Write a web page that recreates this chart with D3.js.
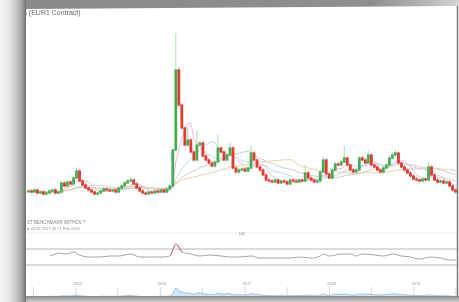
<!DOCTYPE html>
<html>
<head>
<meta charset="utf-8">
<script src="https://cdn.jsdelivr.net/npm/d3@7"></script>
<style>
  html, body { margin: 0; padding: 0; background: #fff; }
  svg { display: block; font-family: "Liberation Sans", Arial, sans-serif; }
</style>
</head>
<body>
<script>
var width = 459;
var height = 302;

// closing prices, one candle roughly every 13 days
var closes = [
  1.8, 1.6, 2.0, 1.4, 1.6, 1.2, 1.4, 1.8, 2.0, 1.4,
  1.6, 3.4, 2.8, 3.6, 3.2, 4.4, 5.8, 3.8, 3.0, 2.4,
  2.0, 1.6, 1.2, 1.4, 1.8, 2.2, 2.0, 1.8, 2.0, 1.6,
  2.4, 2.8, 3.4, 3.8, 4.0, 3.2, 2.4, 1.8, 1.4, 1.2,
  1.6, 1.4, 1.8, 1.6, 2.0, 1.6, 2.2, 2.8, 10.0, 26.0,
  19.0, 14.4, 11.0, 12.0, 9.6, 8.0, 11.0, 11.4, 8.8, 8.0,
  7.4, 6.8, 7.6, 10.4, 9.6, 8.0, 9.0, 10.4, 6.4, 5.6,
  6.0, 6.2, 5.8, 6.4, 9.4, 8.0, 6.6, 6.0, 5.0, 4.0,
  3.8, 3.6, 4.0, 3.4, 3.8, 3.6, 3.2, 4.0, 3.8, 3.6,
  4.0, 3.8, 5.4, 4.4, 4.0, 3.6, 3.8, 5.6, 8.0, 5.2,
  4.4, 6.0, 7.2, 7.0, 7.6, 8.4, 7.0, 6.0, 5.6, 6.0,
  8.4, 8.0, 7.4, 9.0, 7.0, 6.6, 6.0, 5.6, 6.4, 7.0,
  8.4, 9.0, 9.4, 7.4, 6.6, 6.0, 5.4, 4.8, 4.2, 4.0,
  3.8, 4.2, 4.0, 6.6, 5.0, 4.0, 3.6, 3.8, 3.4, 3.6,
  2.8, 2.0, 1.6
];

// notable upper wicks [candle index, high]
var wickHighs = [
  [16, 6.4], [34, 4.6], [49, 33.4], [50, 26.6], [53, 14.4], [56, 14.0],
  [63, 13.0], [67, 11.4], [74, 11.0], [92, 7.0], [98, 8.6], [105, 10.8],
  [113, 10.0], [122, 10.0], [133, 7.6]
];

// oscillator readings [candle index, value]
var oscillator = [
  [7, 52.5], [9, 57.5], [10, 60], [12, 57.5], [14, 60], [15, 62.5], [17, 55],
  [20, 50], [24, 50], [27, 52.5], [30, 52.5], [34, 57.5], [37, 50], [40, 50],
  [45, 50], [47, 52.5], [48, 67.5], [49, 82.5], [51, 62.5], [54, 57.5],
  [57, 52.5], [60, 55], [64, 52.5], [67, 50], [70, 50], [74, 52.5], [77, 47.5],
  [80, 47.5], [84, 47.5], [87, 47.5], [90, 50], [94, 47.5], [97, 52.5],
  [98, 57.5], [100, 52.5], [104, 57.5], [107, 57.5], [109, 52.5], [111, 57.5],
  [115, 55], [118, 52.5], [121, 57.5], [124, 52.5], [127, 50], [130, 45],
  [134, 50], [137, 47.5], [140, 42.5], [142, 42.5]
];

var maPeriods = [6, 14, 26, 40];
var maColors = ["#efb0d8", "#b6d4ee", "#c6c6c6", "#f4c797"];
var yearLabels = ["2015", "2016", "2017", "2018", "2019"];

var startDate = new Date(2014, 5, 10);
var dates = closes.map(function(c, i) { return d3.timeDay.offset(startDate, i * 13); });

var svg = d3.select("body").append("svg")
    .attr("width", width)
    .attr("height", height);

var defs = svg.append("defs");
defs.append("filter").attr("id", "soft")
  .append("feGaussianBlur").attr("stdDeviation", 0.55);

var x = d3.scaleTime()
    .domain([d3.timeDay.offset(dates[0], -6), d3.timeDay.offset(dates[dates.length - 1], 6)])
    .range([27, 457]);

var y = d3.scaleLinear().domain([0, 34]).range([200, 30]);

var chart = svg.append("g").attr("filter", "url(#soft)");

// title
chart.append("text")
    .attr("x", 23).attr("y", 15)
    .attr("font-size", 7).attr("fill", "#666")
    .text("a (EUR1 Contract)");

// candles
var candles = closes.map(function(c, i) {
  var o = i === 0 ? c : closes[i - 1];
  var w = wickHighs.find(function(d) { return d[0] === i; });
  return {
    date: dates[i], open: o, close: c,
    high: w ? w[1] : Math.max(o, c) + 0.4,
    low: Math.min(o, c) - 0.3
  };
});

// moving averages
maPeriods.forEach(function(p, k) {
  var ma = closes.map(function(c, i) {
    var s = closes.slice(Math.max(0, i - p + 1), i + 1);
    return { date: dates[i], v: d3.mean(s) };
  });
  chart.append("path")
    .datum(ma)
    .attr("d", d3.line().x(function(d) { return x(d.date); }).y(function(d) { return y(d.v); }))
    .attr("fill", "none")
    .attr("stroke", maColors[k])
    .attr("stroke-width", 0.9);
});

chart.append("g").selectAll("line")
  .data(candles)
  .enter()
  .append("line")
    .attr("x1", function(d) { return x(d.date); })
    .attr("x2", function(d) { return x(d.date); })
    .attr("y1", function(d) { return y(d.high); })
    .attr("y2", function(d) { return y(d.low); })
    .attr("stroke", function(d) { return d.close >= d.open ? "#b5ddb5" : "#f2b3ae"; })
    .attr("stroke-width", 1.1);

chart.append("g").selectAll("rect")
  .data(candles)
  .enter()
  .append("rect")
    .attr("x", function(d) { return x(d.date) - 1.4; })
    .attr("width", 2.8)
    .attr("y", function(d) { return y(Math.max(d.open, d.close)) - 0.6; })
    .attr("height", function(d) { return Math.max(2, Math.abs(y(d.open) - y(d.close)) + 1.2); })
    .attr("fill", function(d) { return d.close >= d.open ? "#45ad55" : "#de3a33"; });

// indicator header
chart.append("text").attr("x", 27).attr("y", 224)
    .attr("font-size", 4.5).attr("fill", "#888")
    .text("ST BENCHMARK WITHDS ?");
chart.append("text").attr("x", 27).attr("y", 230)
    .attr("font-size", 4).attr("fill", "#999")
    .text("●  46.28  2017  46.71 Feb 2019");

chart.append("line")
    .attr("x1", 26).attr("x2", 457).attr("y1", 233).attr("y2", 233)
    .attr("stroke", "#ececec");
chart.append("text").attr("x", 242).attr("y", 234.5)
    .attr("font-size", 4).attr("fill", "#999").attr("text-anchor", "middle")
    .text("100");

// oscillator panel
var yo = d3.scaleLinear().domain([30, 70]).range([265, 249]);
[30, 70].forEach(function(v) {
  chart.append("line")
    .attr("x1", 26).attr("x2", 457).attr("y1", yo(v)).attr("y2", yo(v))
    .attr("stroke", "#a5a5a5").attr("stroke-width", 0.8);
});
var oscLine = d3.line()
    .x(function(d) { return x(dates[d[0]]); })
    .y(function(d) { return yo(d[1]); })
    .curve(d3.curveMonotoneX);
chart.append("path").datum(oscillator)
    .attr("d", oscLine).attr("fill", "none")
    .attr("stroke", "#9a9a9a").attr("stroke-width", 0.9);
chart.append("path").datum(oscillator.slice(15, 19))
    .attr("d", oscLine).attr("fill", "none")
    .attr("stroke", "#e2606a").attr("stroke-width", 0.9);

// navigator
var yn = d3.scaleLinear().domain([0, 34]).range([297, 285]);
var navTicks = x.ticks(d3.timeMonth.every(6));
chart.append("g").selectAll("line")
  .data(navTicks)
  .enter()
  .append("line")
    .attr("x1", function(d) { return x(d); })
    .attr("x2", function(d) { return x(d); })
    .attr("y1", 287).attr("y2", 297)
    .attr("stroke", "#c8c8c8").attr("stroke-width", 0.7);

chart.append("path").datum(candles)
    .attr("d", d3.area().x(function(d) { return x(d.date); }).y0(297).y1(function(d) { return yn(d.close); }))
    .attr("fill", "#d3e6f6");
chart.append("path").datum(candles)
    .attr("d", d3.line().x(function(d) { return x(d.date); }).y(function(d) { return yn(d.close); }))
    .attr("fill", "none").attr("stroke", "#7fb1dc").attr("stroke-width", 0.7);

chart.append("g").selectAll("text")
  .data(yearLabels)
  .enter()
  .append("text")
    .attr("x", function(d) { return x(new Date(+d, 0, 1)) + 2; })
    .attr("y", 285)
    .attr("font-size", 4).attr("fill", "#999").attr("text-anchor", "middle")
    .text(function(d) { return d; });

// screen frame
var gl = defs.append("linearGradient").attr("id", "leftFrame");
[["0%", "#f6f6f6"], ["35%", "#e6e6e6"], ["65%", "#c4c4c4"], ["85%", "#a2a2a2"], ["100%", "#6e6e6e"]]
  .forEach(function(s) { gl.append("stop").attr("offset", s[0]).attr("stop-color", s[1]); });
var gt = defs.append("linearGradient").attr("id", "topFrame");
[["0%", "#8a8a8a"], ["80%", "#8e8e8e"], ["93%", "#b8b8b8"], ["100%", "#d6d6d6"]]
  .forEach(function(s) { gt.append("stop").attr("offset", s[0]).attr("stop-color", s[1]); });
var gb = defs.append("linearGradient").attr("id", "bottomFrame")
    .attr("x1", 0).attr("x2", 0).attr("y1", 0).attr("y2", 1);
[["0%", "#8c8c8c"], ["100%", "#d0d0d0"]]
  .forEach(function(s) { gb.append("stop").attr("offset", s[0]).attr("stop-color", s[1]); });

svg.append("polygon")
    .attr("points", "24,0 459,0 459,6 24,9")
    .attr("fill", "url(#topFrame)");
svg.append("polygon")
    .attr("points", "0,296 459,296 459,302 0,302")
    .attr("fill", "url(#bottomFrame)");
svg.append("rect")
    .attr("x", 0).attr("y", 0).attr("width", 26).attr("height", height)
    .attr("fill", "url(#leftFrame)");
svg.append("line")
    .attr("x1", 457.5).attr("x2", 457.5).attr("y1", 6).attr("y2", 297)
    .attr("stroke", "#7a7a7a").attr("stroke-width", 1.5);
</script>
</body>
</html>
